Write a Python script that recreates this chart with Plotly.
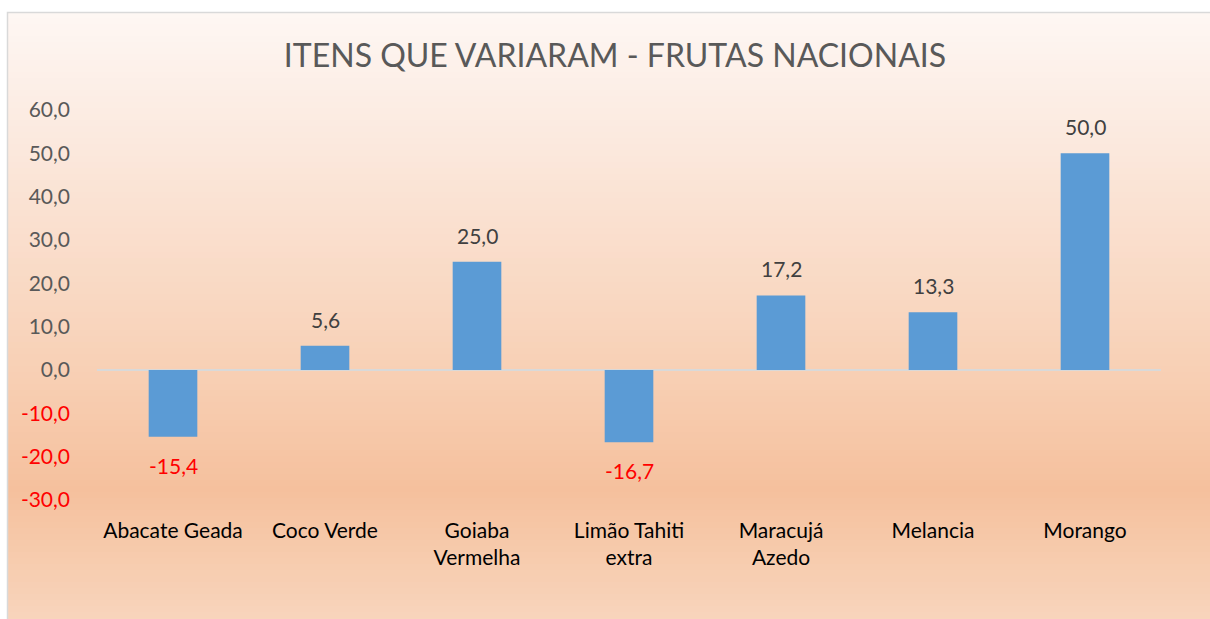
import plotly.graph_objects as go

categories = ["Abacate Geada", "Coco Verde", "Goiaba<br>Vermelha", "Limão Tahiti<br>extra",
              "Maracujá<br>Azedo", "Melancia", "Morango"]
values = [-15.4, 5.6, 25.0, -16.7, 17.2, 13.3, 50.0]
pos_ticks = [0, 10, 20, 30, 40, 50, 60]
neg_ticks = [-10, -20, -30]
title_text = "ITENS QUE VARIARAM - FRUTAS NACIONAIS"

W, H = 1210, 619
L, R, T, B = 97, 1210 - 1161, 110, 619 - 500
pw, ph = W - L - R, H - T - B

def px_x(px):
    return (px - L) / pw

def px_y(py):
    return (H - B - py) / ph

# gradient background (screen pixel y, rgb)
stops = [(12, (254, 247, 243)), (140, (251, 233, 222)), (370, (248, 208, 181)),
         (490, (245, 192, 157)), (619, (248, 213, 188))]

def color_at(y):
    for (y0, c0), (y1, c1) in zip(stops[:-1], stops[1:]):
        if y0 <= y <= y1:
            t = (y - y0) / (y1 - y0)
            return "rgb(%d,%d,%d)" % tuple(round(a + (b - a) * t) for a, b in zip(c0, c1))
    return "rgb(%d,%d,%d)" % stops[-1][1]

shapes = []
step = 6
y = 12
while y < 619:
    y2 = min(y + step, 619)
    shapes.append(dict(type="rect", xref="paper", yref="paper", layer="below",
                       x0=px_x(7), x1=px_x(1215), y0=px_y(y2 + 0.5), y1=px_y(y),
                       fillcolor=color_at((y + y2) / 2), line=dict(width=0)))
    y = y2
# border
shapes.append(dict(type="rect", xref="paper", yref="paper", layer="below",
                   x0=px_x(7.5), x1=px_x(1220), y0=px_y(625), y1=px_y(12.5),
                   fillcolor="rgba(0,0,0,0)", line=dict(color="#D9D9D9", width=1.5)))

def fmt(v):
    return ("%.1f" % v).replace(".", ",")

annotations = []
for c, v in zip(categories, values):
    neg = v < 0
    annotations.append(dict(
        x=c, y=v, xref="x", yref="y", text=fmt(v), showarrow=False,
        yanchor="top" if neg else "bottom", yshift=-14 if neg else 12,
        font=dict(family="Lato", size=21, color="#FF0000" if neg else "#404040"),
    ))

fig = go.Figure()
fig.add_trace(go.Bar(
    x=categories, y=values, width=0.32,
    marker=dict(color="#5B9BD5", line=dict(width=0)),
    cliponaxis=False, hoverinfo="skip",
))
# invisible trace for the second axis
fig.add_trace(go.Scatter(x=[categories[0]], y=[0], yaxis="y2", mode="markers",
                         marker=dict(opacity=0), showlegend=False, hoverinfo="skip"))

fig.update_layout(
    width=W, height=H,
    margin=dict(l=L, r=R, t=T, b=B),
    paper_bgcolor="white", plot_bgcolor="rgba(0,0,0,0)",
    separators=",.",
    showlegend=False,
    title=dict(text=title_text, x=615 / W, xanchor="center", y=1 - 56 / H,
               yanchor="middle", font=dict(family="Lato", size=32, color="#595959")),
    font=dict(family="Lato", size=21, color="#595959"),
    xaxis=dict(showgrid=False, showline=False, ticks="", tickfont=dict(color="#000000", size=21),
               ticklabelstandoff=16, fixedrange=True),
    yaxis=dict(range=[-30, 60], tickvals=pos_ticks, ticktext=[fmt(v) for v in pos_ticks],
               showgrid=False, zeroline=True, zerolinecolor="#D9D9D9", zerolinewidth=2,
               showline=False, tickfont=dict(color="#595959", size=21), ticklabelstandoff=26),
    yaxis2=dict(range=[-30, 60], overlaying="y", side="left", tickvals=neg_ticks,
                ticktext=[fmt(v) for v in neg_ticks],
                showgrid=False, zeroline=False, showline=False,
                tickfont=dict(color="#FF0000", size=21), ticklabelstandoff=26),
    shapes=shapes,
    annotations=annotations,
)

fig.write_html("out.html", default_width="%dpx" % W, default_height="%dpx" % H,
               config={"displayModeBar": False},
               post_script=("document.body.style.margin='0';"
                            "document.body.style.overflow='hidden';"
                            "document.documentElement.style.overflow='hidden';"))
